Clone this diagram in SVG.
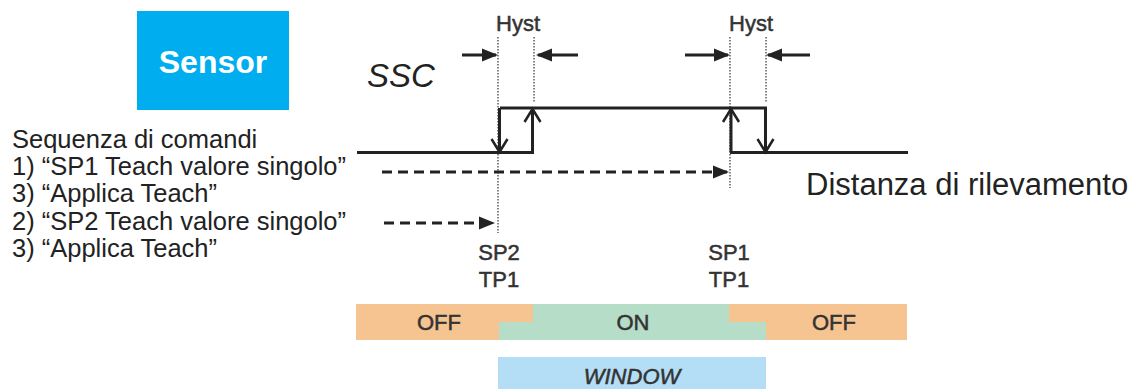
<svg xmlns="http://www.w3.org/2000/svg" width="1147" height="389" viewBox="0 0 1147 389">
  <style>
    .sig { fill: none; stroke: #222; stroke-width: 3; }
    .dot { fill: none; stroke: #666; stroke-width: 1.6; stroke-dasharray: 1.5 1.5; }
    .dash { fill: none; stroke: #222; stroke-width: 3; stroke-dasharray: 10 6; }
    .hy { fill: none; stroke: #222; stroke-width: 3; }
    .lbl { font-family: "Liberation Sans", Arial, sans-serif; fill: #333; stroke: #333; stroke-width: 0.5; }
    .txt { font-family: "Liberation Sans", Arial, sans-serif; fill: #222; }
  </style>
  <defs>
    <marker id="fill" markerUnits="userSpaceOnUse" markerWidth="20" markerHeight="20" viewBox="-16 -8 20 16" refX="0" refY="0" orient="auto" overflow="visible">
      <path d="M2 0 L-14 -6.5 L-14 6.5 Z" fill="#222"/>
    </marker>
    <marker id="chev" markerUnits="userSpaceOnUse" markerWidth="20" markerHeight="20" viewBox="-16 -10 20 20" refX="0" refY="0" orient="auto" overflow="visible">
      <path d="M-13 -8 L0 0 L-13 8" fill="none" stroke="#222" stroke-width="2.5"/>
    </marker>
  </defs>

  <g id="sensor">
    <rect x="137" y="11" width="152" height="99" fill="#00AEEF"/>
    <text x="213" y="73" text-anchor="middle" font-family="Liberation Sans, Arial, sans-serif" font-weight="bold" font-size="32" fill="#fff">Sensor</text>
  </g>

  <g id="ssc">
    <text x="367" y="87" class="txt" font-style="italic" font-size="33">SSC</text>
  </g>

  <g id="commands" class="txt" font-size="25.5">
    <text x="12" y="148">Sequenza di comandi</text>
    <text x="12" y="175.2">1) “SP1 Teach valore singolo”</text>
    <text x="12" y="202.4">3) “Applica Teach”</text>
    <text x="12" y="229.6">2) “SP2 Teach valore singolo”</text>
    <text x="12" y="256.8">3) “Applica Teach”</text>
  </g>

  <g id="axis-label">
    <text x="806" y="195" class="txt" font-size="31">Distanza di rilevamento</text>
  </g>

  <g id="hyst-labels" class="lbl" font-size="22" text-anchor="middle">
    <text x="518" y="31">Hyst</text>
    <text x="751" y="31">Hyst</text>
  </g>

  <g id="sp-labels" class="lbl" font-size="22" text-anchor="middle">
    <text x="499" y="260">SP2</text>
    <text x="499" y="287">TP1</text>
    <text x="729" y="260">SP1</text>
    <text x="729" y="287">TP1</text>
  </g>

  <g id="connectors">
    <path class="dot" d="M498 37 V233"/>
    <path class="dot" d="M534 37 V103"/>
    <path class="dot" d="M730 37 V188"/>
    <path class="dot" d="M766 37 V103"/>
    <path class="hy" d="M462 55 H496" marker-end="url(#fill)"/>
    <path class="hy" d="M578 55 H538" marker-end="url(#fill)"/>
    <path class="hy" d="M685 55 H728" marker-end="url(#fill)"/>
    <path class="hy" d="M810 55 H768" marker-end="url(#fill)"/>
    <path class="sig" d="M357 152.5 H534"/>
    <path class="sig" d="M500 108 H767"/>
    <path class="sig" d="M532.5 152.5 V109" marker-end="url(#chev)"/>
    <path class="sig" d="M499.5 108 V152" marker-end="url(#chev)"/>
    <path class="sig" d="M731 152.5 V109" marker-end="url(#chev)"/>
    <path class="sig" d="M765.5 108 V152" marker-end="url(#chev)"/>
    <path class="sig" d="M730 152.5 H908"/>
    <path class="dash" d="M382 172 H727" marker-end="url(#fill)"/>
    <path class="dash" d="M384 223 H493" marker-end="url(#fill)"/>
  </g>

  <g id="state-bar">
    <rect x="356" y="304" width="551" height="36" fill="#F6C490"/>
    <path d="M499 322 H533 V304 H729 V322 H766 V340 H499 Z" fill="#B5DDC8"/>
    <g class="lbl" font-size="22" text-anchor="middle">
      <text x="439" y="330">OFF</text>
      <text x="633" y="330">ON</text>
      <text x="834" y="330">OFF</text>
    </g>
  </g>

  <g id="window">
    <rect x="498" y="357" width="268" height="32" fill="#B4DDF6"/>
    <text x="632" y="384" class="lbl" font-size="22" font-style="italic" text-anchor="middle">WINDOW</text>
  </g>
</svg>
